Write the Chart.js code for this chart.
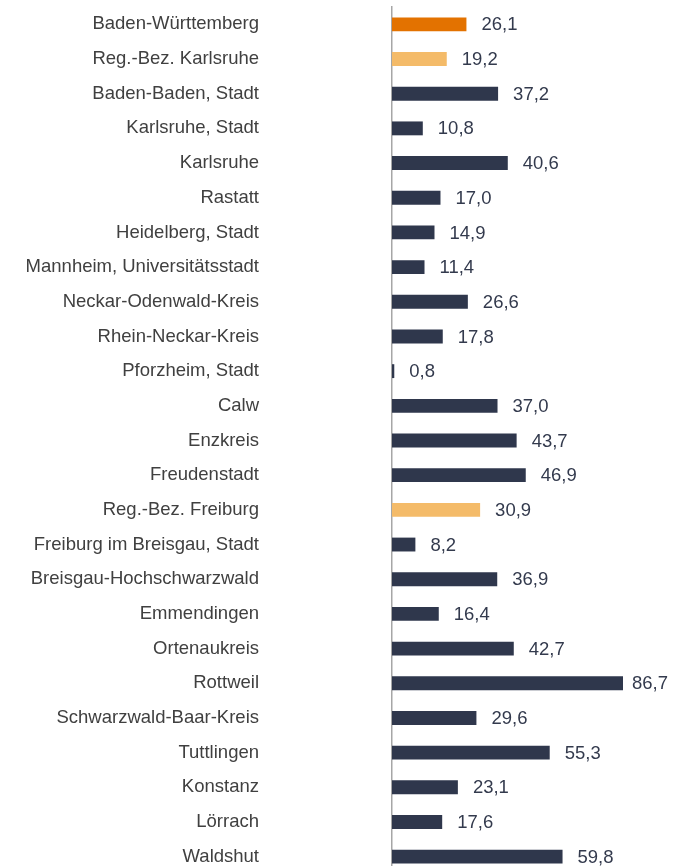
<!DOCTYPE html>
<html>
<head>
<meta charset="utf-8">
<script src="https://cdn.jsdelivr.net/npm/chart.js@4.4.1/dist/chart.umd.min.js"></script>
<style>
    html, body { margin: 0; padding: 0; background: #fff; overflow: hidden; }
    canvas { display: block; }
</style>
</head>
<body>
<canvas id="barChart" width="689" height="874"></canvas>
<script>
// Kreise und Regierungsbezirke
const regions = [
    'Baden-Württemberg', 'Reg.-Bez. Karlsruhe', 'Baden-Baden, Stadt', 'Karlsruhe, Stadt',
    'Karlsruhe', 'Rastatt', 'Heidelberg, Stadt', 'Mannheim, Universitätsstadt',
    'Neckar-Odenwald-Kreis', 'Rhein-Neckar-Kreis', 'Pforzheim, Stadt', 'Calw',
    'Enzkreis', 'Freudenstadt', 'Reg.-Bez. Freiburg', 'Freiburg im Breisgau, Stadt',
    'Breisgau-Hochschwarzwald', 'Emmendingen', 'Ortenaukreis', 'Rottweil',
    'Schwarzwald-Baar-Kreis', 'Tuttlingen', 'Konstanz', 'Lörrach', 'Waldshut'
];
const values = [
    26.1, 19.2, 37.2, 10.8, 40.6, 17.0, 14.9, 11.4, 26.6, 17.8, 0.8, 37.0,
    43.7, 46.9, 30.9, 8.2, 36.9, 16.4, 42.7, 86.7, 29.6, 55.3, 23.1, 17.6, 59.8
];
// level of each row: land, bezirk or kreis
const levels = [
    'land', 'bezirk', 'kreis', 'kreis', 'kreis', 'kreis', 'kreis', 'kreis', 'kreis',
    'kreis', 'kreis', 'kreis', 'kreis', 'kreis', 'bezirk', 'kreis', 'kreis', 'kreis',
    'kreis', 'kreis', 'kreis', 'kreis', 'kreis', 'kreis', 'kreis'
];
const levelColors = { land: '#e37200', bezirk: '#f4bb69', kreis: '#2f374c' };
const FONT = "'Liberation Sans', Arial, sans-serif";

// writes the value next to the end of each bar
const valueLabels = {
    id: 'valueLabels',
    afterDatasetsDraw(chart) {
        let ctx = chart.ctx;
        let area = chart.chartArea;
        let meta = chart.getDatasetMeta(0);
        ctx.save();
        ctx.font = '18.5px ' + FONT;
        ctx.fillStyle = '#333a4d';
        ctx.textAlign = 'left';
        ctx.textBaseline = 'middle';
        meta.data.forEach((bar, i) => {
            let end = Math.min(bar.x, area.right);
            let offset = bar.x > area.right ? 9 : 15;
            let text = values[i].toFixed(1).replace('.', ',');
            ctx.fillText(text, end + offset, bar.y + 1);
        });
        ctx.restore();
    }
};

let ctxBar = document.getElementById('barChart');
new Chart(ctxBar, {
    type: 'bar',
    data: {
        labels: regions,
        datasets: [{
            data: values,
            backgroundColor: levels.map(l => levelColors[l]),
            barPercentage: 0.8,
            categoryPercentage: 0.5
        }]
    },
    options: {
        indexAxis: 'y',
        responsive: false,
        maintainAspectRatio: false,
        animation: false,
        devicePixelRatio: 1,
        layout: {
            padding: { top: 7, right: 66, bottom: 0, left: 0 }
        },
        scales: {
            x: {
                display: false,
                min: 0,
                max: 81
            },
            y: {
                afterFit: function (scale) {
                    // fixed axis width; the big tick padding should not pad top/bottom
                    scale.width = 392;
                    scale.paddingTop = 0;
                    scale.paddingBottom = 0;
                },
                grid: { display: false, drawTicks: false },
                border: { display: true, color: '#a6a6a6', width: 1.5 },
                ticks: {
                    padding: 133,
                    color: '#404040',
                    font: { family: FONT, size: 18.5 }
                }
            }
        },
        plugins: {
            legend: { display: false },
            tooltip: { enabled: false }
        }
    },
    plugins: [valueLabels]
});
</script>
</body>
</html>
